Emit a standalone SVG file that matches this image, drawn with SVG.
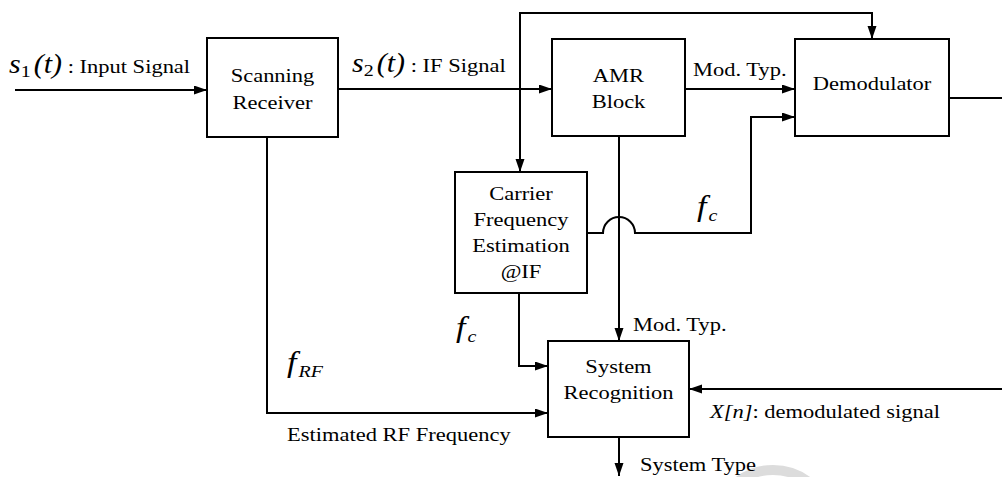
<svg xmlns="http://www.w3.org/2000/svg" width="1002" height="477" viewBox="0 0 1002 477" font-family="'Liberation Serif', 'Times New Roman', serif">
  <defs>
    <marker id="arrow" markerUnits="userSpaceOnUse" markerWidth="14" markerHeight="10" refX="13" refY="4.5" orient="auto">
      <path d="M0,0 L13,4.5 L0,9 z" fill="#000"/>
    </marker>
    <style>
      .box { fill: #fff; stroke: #000; stroke-width: 2; }
      .wire { fill: none; stroke: #000; stroke-width: 2; }
      .arr { marker-end: url(#arrow); }
      text { font-family: "Liberation Serif", "Times New Roman", serif; fill: #000; }
      .lbl { font-size: 22.5px; }
      .mid { text-anchor: middle; }
      .it { font-style: italic; }
      .up { font-style: normal; }
      .math { font-size: 30px; font-style: italic; }
      .fsym { font-size: 34px; font-style: italic; }
      .sub { font-size: 20px; }
    </style>
  </defs>

  <rect width="1002" height="477" fill="#fff"/>

  <!-- faint mark near the bottom edge -->
  <circle cx="773" cy="528" r="58" fill="none" stroke="#dcdcdc" stroke-width="10"/>

  <!-- connectors -->
  <g id="connectors">
    <path class="wire arr" d="M15,90 H207"/>
    <path class="wire arr" d="M338,89 H552"/>
    <path class="wire arr" d="M520,89 V13 H872 V39"/>
    <path class="wire arr" d="M520,89 V172"/>
    <path class="wire arr" d="M685,89 H795"/>
    <path class="wire arr" d="M587,233 H603 A16,16 0 0 1 635,233 H751 V117 H795"/>
    <path class="wire arr" d="M619,136 V341"/>
    <path class="wire arr" d="M519,293 V366 H548"/>
    <path class="wire arr" d="M267,137 V413 H548"/>
    <path class="wire" d="M949,98 H1002"/>
    <path class="wire arr" d="M1002,389 H689"/>
    <path class="wire arr" d="M619,437 V476"/>
  </g>

  <!-- nodes -->
  <g id="scanning-receiver">
    <rect class="box" x="207" y="38" width="131" height="99"/>
    <text class="lbl mid" transform="translate(272.5,82) scale(1,0.88)">Scanning</text>
    <text class="lbl mid" transform="translate(272.5,109) scale(1,0.88)">Receiver</text>
  </g>

  <g id="amr-block">
    <rect class="box" x="552" y="39" width="133" height="97"/>
    <text class="lbl mid" transform="translate(618.5,82) scale(1,0.88)">AMR</text>
    <text class="lbl mid" transform="translate(618.5,108) scale(1,0.88)">Block</text>
  </g>

  <g id="demodulator">
    <rect class="box" x="795" y="39" width="154" height="97"/>
    <text class="lbl mid" transform="translate(872,90) scale(1,0.88)">Demodulator</text>
  </g>

  <g id="carrier-estimation">
    <rect class="box" x="455" y="172" width="132" height="121"/>
    <text class="lbl mid" transform="translate(521,200) scale(1,0.88)">Carrier</text>
    <text class="lbl mid" transform="translate(521,226) scale(1,0.88)">Frequency</text>
    <text class="lbl mid" transform="translate(521,252) scale(1,0.88)">Estimation</text>
    <text class="lbl mid" transform="translate(521,278) scale(1,0.88)">@IF</text>
  </g>

  <g id="system-recognition">
    <rect class="box" x="548" y="341" width="141" height="96"/>
    <text class="lbl mid" transform="translate(618.5,373) scale(1,0.88)">System</text>
    <text class="lbl mid" transform="translate(618.5,399) scale(1,0.88)">Recognition</text>
  </g>

  <!-- signal labels -->
  <g id="labels">
    <text transform="translate(9,73) scale(1,0.88)"><tspan class="math">s</tspan><tspan class="sub" dy="5">1</tspan><tspan class="math up" dy="-5" dx="3">(</tspan><tspan class="math">t</tspan><tspan class="math up">)</tspan><tspan class="lbl"> : Input Signal</tspan></text>
    <text transform="translate(352,72) scale(1,0.88)"><tspan class="math">s</tspan><tspan class="sub" dy="5">2</tspan><tspan class="math up" dy="-5" dx="3">(</tspan><tspan class="math">t</tspan><tspan class="math up">)</tspan><tspan class="lbl"> : IF Signal</tspan></text>
    <text class="lbl" transform="translate(693,76) scale(1,0.88)">Mod. Typ.</text>
    <text transform="translate(697,216) scale(1,0.88)"><tspan class="fsym">f</tspan><tspan class="sub it" dy="6" dx="2">c</tspan></text>
    <text transform="translate(456,337) scale(1,0.88)"><tspan class="fsym">f</tspan><tspan class="sub it" dy="6" dx="2">c</tspan></text>
    <text class="lbl" transform="translate(633,331) scale(1,0.88)">Mod. Typ.</text>
    <text transform="translate(287,372) scale(1,0.88)"><tspan class="fsym">f</tspan><tspan class="sub it" dy="6" dx="2">RF</tspan></text>
    <text class="lbl" transform="translate(287,441) scale(1,0.88)">Estimated RF Frequency</text>
    <text class="lbl" transform="translate(710,418) scale(1,0.88)"><tspan class="it">X[n]</tspan>: demodulated signal</text>
    <text class="lbl" transform="translate(640,471) scale(1,0.88)">System Type</text>
  </g>
</svg>
